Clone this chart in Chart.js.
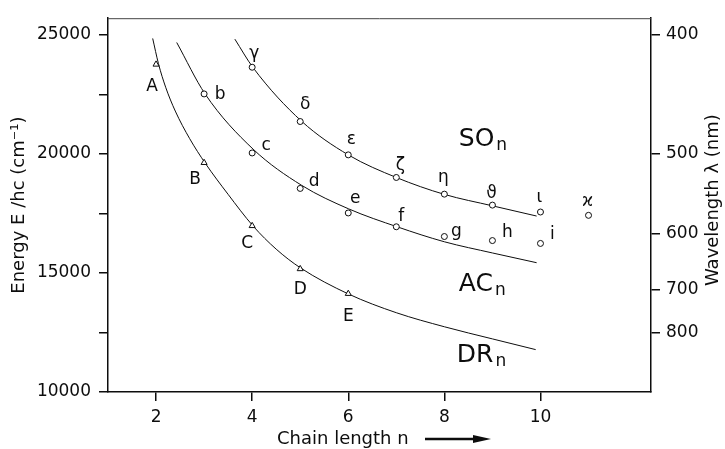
<!DOCTYPE html>
<html>
<head>
<meta charset="utf-8">
<title>Chain length vs energy</title>
<script src="https://cdn.jsdelivr.net/npm/chart.js@4"></script>
<style>
    html, body { margin: 0; padding: 0; background: #fff; }
    #wrap { width: 725px; height: 449px; position: relative; }
</style>
</head>
<body>
<div id="wrap"><canvas id="chart"></canvas></div>
<script>
// measured points (chain length n, energy in cm-1)
const drN = [2, 3, 4, 5, 6];
const drE = [23760, 19630, 16980, 15170, 14130];
const drLabels = ['A', 'B', 'C', 'D', 'E'];

const acN = [3, 4, 5, 6, 7, 8, 9, 10];
const acE = [22520, 20040, 18550, 17520, 16940, 16530, 16360, 16240];
const acLabels = ['b', 'c', 'd', 'e', 'f', 'g', 'h', 'i'];

const soN = [4, 5, 6, 7, 8, 9, 10, 11];
const soE = [23640, 21360, 19960, 19010, 18310, 17850, 17560, 17420];
const soLabels = ['γ', 'δ', 'ε', 'ζ', 'η', 'ϑ', 'ι', 'ϰ'];

// fitted curves
const drCurveN = [1.93, 2.05, 2.2, 2.4, 2.7, 3.02, 3.5, 4.02, 4.5, 5, 6, 7, 8, 9, 9.9];
const drCurveE = [24850, 23790, 22800, 21800, 20640, 19620, 18300, 16970, 16000, 15220, 14120, 13330, 12740, 12230, 11780];
const acCurveN = [2.43, 3.02, 4.02, 5.03, 6.01, 7.03, 8, 9, 9.92];
const acCurveE = [24680, 22520, 20200, 18680, 17690, 16930, 16310, 15840, 15430];
const soCurveN = [3.64, 4.02, 5.03, 6, 7, 8, 9, 9.92];
const soCurveE = [24820, 23620, 21370, 19960, 19010, 18300, 17820, 17390];

// tick labels
const xTicks = [2, 4, 6, 8, 10];
const energyTicks = [10000, 12500, 15000, 17500, 20000, 22500, 25000];
const wavelengthTicks = [400, 500, 600, 700, 800];

// label offsets in px from each marker (text centre)
const drOff = [[-4, 22], [-9, 17], [-5, 18], [0, 21], [0, 23]];
const acOff = [[16, 1], [14, -7], [14, -7], [7, -14], [5, -10], [12, -5], [15, -8], [12, -9]];
const soOff = [[2, -14], [5, -17], [3, -15], [4, -12], [-1, -17], [-1, -12], [-1, -14], [-1, -14]];

const groups = [
    { n: drN, e: drE, labels: drLabels, off: drOff },
    { n: acN, e: acE, labels: acLabels, off: acOff },
    { n: soN, e: soE, labels: soLabels, off: soOff }
];

// series names placed in data coordinates (left edge, baseline)
const seriesNames = [
    { main: 'SO', sub: 'n', x: 8.3, y: 20350 },
    { main: 'AC', sub: 'n', x: 8.3, y: 14260 },
    { main: 'DR', sub: 'n', x: 8.26, y: 11240 }
];

const toXY = (xs, ys) => xs.map((v, i) => ({ x: v, y: ys[i] }));
const INK = '#0d0d0d';
const FONT = '"DejaVu Sans", sans-serif';

Chart.defaults.font.family = FONT;
Chart.defaults.color = INK;

const annotate = {
    id: 'annotate',
    afterDatasetsDraw(chart) {
        const { ctx, chartArea: a, scales: { x, y } } = chart;
        ctx.save();
        // top edge of the frame
        ctx.strokeStyle = '#444';
        ctx.lineWidth = 1;
        ctx.beginPath();
        ctx.moveTo(a.left, a.top + 0.5);
        ctx.lineTo(a.right, a.top + 0.5);
        ctx.stroke();

        // point letters
        ctx.fillStyle = INK;
        ctx.font = '17px ' + FONT;
        ctx.textAlign = 'center';
        ctx.textBaseline = 'middle';
        groups.forEach(g => g.n.forEach((n, i) => {
            ctx.fillText(g.labels[i],
                x.getPixelForValue(n) + g.off[i][0],
                y.getPixelForValue(g.e[i]) + g.off[i][1]);
        }));

        // right axis title, reading upwards
        ctx.save();
        ctx.font = '18px ' + FONT;
        ctx.translate(a.right + 62, (a.top + a.bottom) / 2 - 5);
        ctx.rotate(-Math.PI / 2);
        ctx.fillText('Wavelength λ (nm)', 0, 0);
        ctx.restore();

        // series names with subscript
        ctx.textAlign = 'left';
        ctx.textBaseline = 'alphabetic';
        seriesNames.forEach(s => {
            const px = x.getPixelForValue(s.x);
            const py = y.getPixelForValue(s.y);
            ctx.font = '25px ' + FONT;
            const w = ctx.measureText(s.main).width;
            ctx.fillText(s.main, px, py);
            ctx.font = '17px ' + FONT;
            ctx.fillText(s.sub, px + w + 2, py + 4);
        });

        // x axis title with arrow
        ctx.font = '18px ' + FONT;
        const tx = a.left + 169;
        const ty = a.bottom + 52;
        ctx.fillText('Chain length n', tx, ty);
        const ay = ty - 5;
        ctx.lineWidth = 2.5;
        ctx.strokeStyle = INK;
        ctx.beginPath();
        ctx.moveTo(tx + 148, ay);
        ctx.lineTo(tx + 200, ay);
        ctx.stroke();
        ctx.beginPath();
        ctx.moveTo(tx + 196, ay - 4);
        ctx.lineTo(tx + 214, ay);
        ctx.lineTo(tx + 196, ay + 4);
        ctx.closePath();
        ctx.fill();
        ctx.restore();
    }
};

const markerStyle = {
    showLine: false,
    borderColor: INK,
    backgroundColor: '#fff',
    borderWidth: 1,
    order: 0
};
const curveStyle = {
    showLine: true,
    pointRadius: 0,
    borderColor: INK,
    borderWidth: 1,
    cubicInterpolationMode: 'monotone',
    order: 1
};
const axisGrid = { drawOnChartArea: false, drawTicks: true, tickLength: 9, color: INK, lineWidth: 1.5 };
const axisBorder = { display: true, color: INK, width: 1.5 };

new Chart(document.getElementById('chart'), {
    type: 'scatter',
    data: {
        datasets: [
            { ...markerStyle, data: toXY(drN, drE), pointStyle: 'triangle', pointRadius: 3.5 },
            { ...markerStyle, data: toXY(acN, acE), pointStyle: 'circle', pointRadius: 3 },
            { ...markerStyle, data: toXY(soN, soE), pointStyle: 'circle', pointRadius: 3 },
            { ...curveStyle, data: toXY(drCurveN, drCurveE) },
            { ...curveStyle, data: toXY(acCurveN, acCurveE) },
            { ...curveStyle, data: toXY(soCurveN, soCurveE) }
        ]
    },
    options: {
        responsive: true,
        maintainAspectRatio: false,
        animation: false,
        layout: { padding: { top: 12, left: 0, right: 0, bottom: 0 } },
        plugins: { legend: { display: false }, tooltip: { enabled: false } },
        scales: {
            x: {
                type: 'linear', min: 1, max: 12.3,
                afterBuildTicks: s => { s.ticks = xTicks.map(v => ({ value: v })); },
                afterFit: s => { s.height = 57; },
                grid: axisGrid, border: axisBorder,
                ticks: { font: { size: 17 }, padding: 6, maxRotation: 0, callback: v => v }
            },
            y: {
                type: 'linear', position: 'left', min: 10000, max: 25700,
                afterBuildTicks: s => { s.ticks = energyTicks.map(v => ({ value: v })); },
                afterFit: s => { s.width = 108; },
                grid: axisGrid, border: axisBorder,
                ticks: { font: { size: 17 }, padding: 8, callback: v => (v % 5000 === 0 ? v : '') },
                title: { display: true, text: 'Energy E /hc (cm⁻¹)', font: { size: 18 }, padding: { top: 9, bottom: 0 } }
            },
            y2: {
                type: 'linear', position: 'right', min: 10000, max: 25700,
                afterBuildTicks: s => { s.ticks = wavelengthTicks.map(l => ({ value: 1e7 / l })); },
                afterFit: s => { s.width = 74; },
                grid: axisGrid, border: axisBorder,
                ticks: { font: { size: 17 }, padding: 6, callback: v => Math.round(1e7 / v) }
            }
        }
    },
    plugins: [annotate]
});
</script>
</body>
</html>
